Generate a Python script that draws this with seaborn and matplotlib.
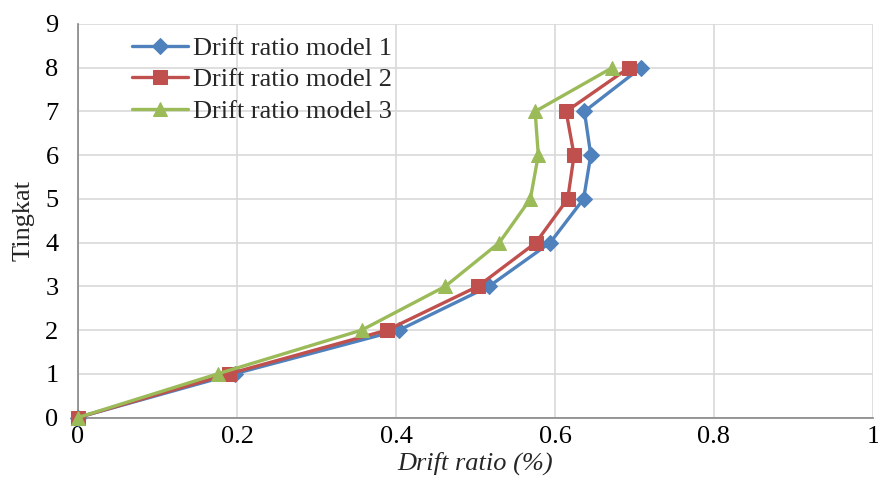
import matplotlib
matplotlib.use("Agg")
import matplotlib.pyplot as plt
import seaborn as sns
import pandas as pd

levels = [0, 1, 2, 3, 4, 5, 6, 7, 8]
model1 = [0, 0.197, 0.404, 0.517, 0.594, 0.636, 0.645, 0.637, 0.708]
model2 = [0, 0.190, 0.389, 0.503, 0.576, 0.616, 0.624, 0.614, 0.693]
model3 = [0, 0.176, 0.357, 0.462, 0.530, 0.569, 0.579, 0.575, 0.672]
names = ["Drift ratio model 1", "Drift ratio model 2", "Drift ratio model 3"]
xticks = [0, 0.2, 0.4, 0.6, 0.8, 1]
yticks = list(range(10))

sns.set_theme(style="white")
plt.rcParams['font.family'] = ['Liberation Serif', 'DejaVu Serif']

rows = []
for name, vals in zip(names, [model1, model2, model3]):
    for lv, v in zip(levels, vals):
        rows.append({"drift": v, "level": lv, "model": name})
df = pd.DataFrame(rows)

fig = plt.figure(figsize=(8.79, 4.99), dpi=100)
ax = fig.add_axes([78/879, 1-417.5/499, (873-78)/879, (417.5-24)/499])

colors = ["#4F81BD", "#C0504D", "#9BBB59"]
markers = ["D", "s", "^"]
msizes = [8, 10, 10]
for name, c, m, ms in zip(names, colors, markers, msizes):
    sub = df[df.model == name]
    sns.lineplot(data=sub, x="drift", y="level", sort=False, estimator=None,
                 color=c, marker=m, markersize=ms, markeredgecolor=c,
                 linewidth=2.4, label=name, ax=ax, zorder=3, clip_on=False)

ax.set_xlim(0, 1)
ax.set_ylim(0, 9)
ax.set_xticks(xticks)
ax.set_xticklabels([f"{t:g}" for t in xticks])
ax.set_yticks(yticks)
ax.grid(True, color="#d9d9d9", linewidth=1.2)
ax.set_axisbelow(True)
for s in ["top", "right"]:
    ax.spines[s].set_visible(False)
for s in ["left", "bottom"]:
    ax.spines[s].set_color("#868686")
    ax.spines[s].set_linewidth(1.2)
ax.tick_params(axis="both", labelsize=19, colors="black", length=0)
ax.tick_params(axis="x", pad=6)
ax.tick_params(axis="y", pad=14)
ax.set_xlabel("Drift ratio (%)", fontsize=19, style="italic", labelpad=3)
ax.set_ylabel("Tingkat", fontsize=19, labelpad=8)

leg = ax.legend(loc="upper left", bbox_to_anchor=(0.055, 0.995), frameon=False,
                fontsize=19, handlelength=2.1, labelspacing=0.3, handletextpad=0.2,
                borderaxespad=0)

fig.savefig("out.png", dpi=100)
